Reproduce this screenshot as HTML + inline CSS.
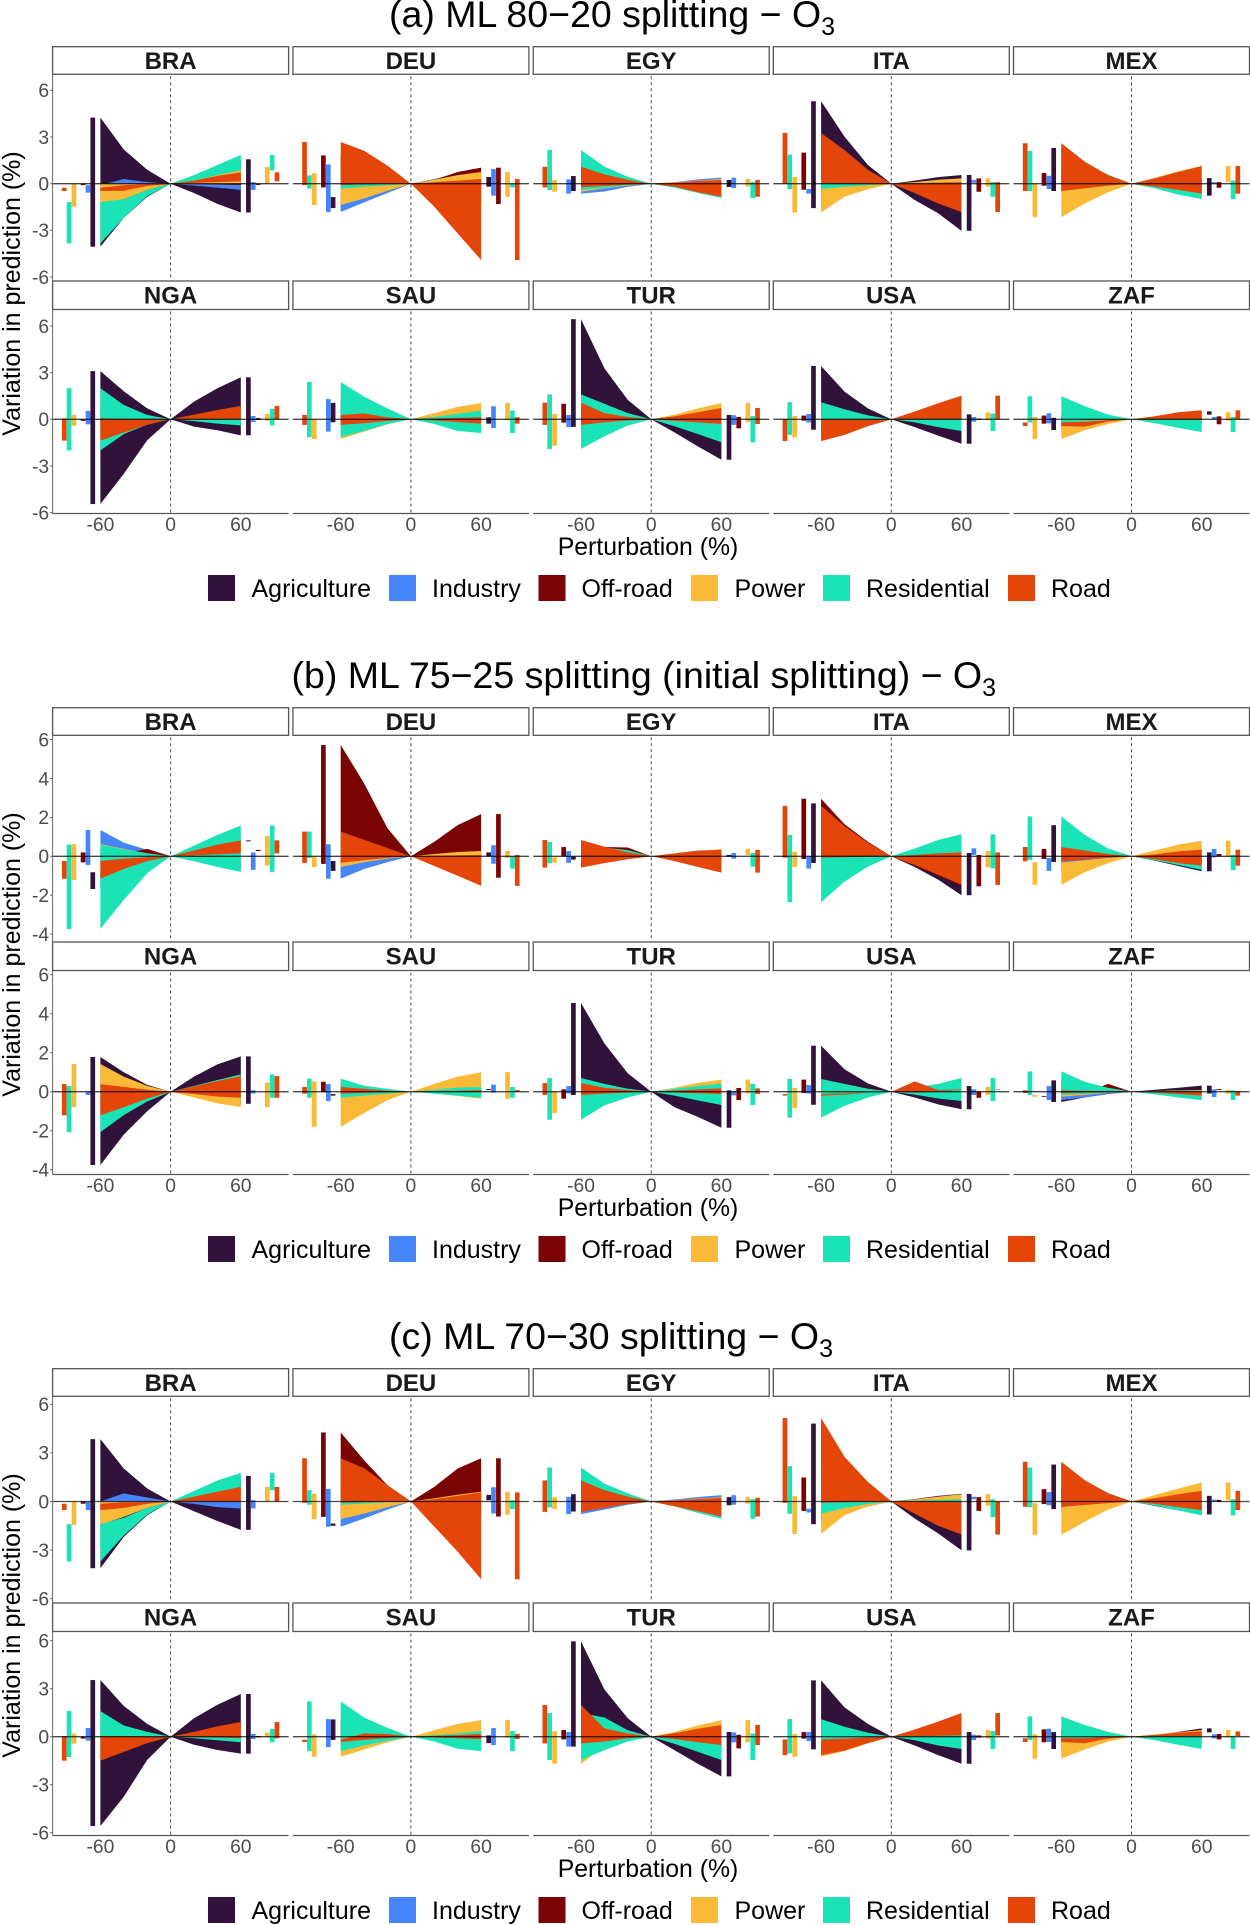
<!DOCTYPE html>
<html lang="en">
<head>
<meta charset="utf-8">
<title>Variation in O3 prediction under emission perturbation</title>
<style>
html,body{margin:0;padding:0;background:#fff;}
svg{display:block;font-family:"Liberation Sans",sans-serif;}
</style>
</head>
<body>
<svg id="chart" xmlns="http://www.w3.org/2000/svg" width="1250" height="1925" viewBox="0 0 1250 1925">
  <rect x="0" y="0" width="1250" height="1925" fill="#fff"/>
  <g id="plots"></g>

  <g font-size="37.5" fill="#000">
    <text x="389" y="27">(a) ML 80−20 splitting − O<tspan dy="8" font-size="25">3</tspan></text>
    <text x="291.5" y="688">(b) ML 75−25 splitting (initial splitting) − O<tspan dy="8" font-size="25">3</tspan></text>
    <text x="389" y="1349">(c) ML 70−30 splitting − O<tspan dy="8" font-size="25">3</tspan></text>
  </g>

  <g font-size="25" fill="#000" text-anchor="middle">
    <text transform="translate(20 293.5) rotate(-90)">Variation in prediction (%)</text>
    <text transform="translate(20 954.5) rotate(-90)">Variation in prediction (%)</text>
    <text transform="translate(20 1615.5) rotate(-90)">Variation in prediction (%)</text>
  </g>

  <g font-size="24.8" fill="#000" text-anchor="middle">
    <text x="648" y="555">Perturbation (%)</text>
    <text x="648" y="1216">Perturbation (%)</text>
    <text x="648" y="1877">Perturbation (%)</text>
  </g>

  <g font-size="25" fill="#000">
    <rect x="208" y="575" width="27" height="26" fill="#30123b"/>
    <text x="251.5" y="597">Agriculture</text>
    <rect x="389" y="575" width="27" height="26" fill="#4686fb"/>
    <text x="432" y="597">Industry</text>
    <rect x="538.5" y="575" width="27" height="26" fill="#7a0403"/>
    <text x="581.5" y="597">Off-road</text>
    <rect x="691" y="575" width="27" height="26" fill="#fbb938"/>
    <text x="734.5" y="597">Power</text>
    <rect x="823" y="575" width="27" height="26" fill="#1ae4b6"/>
    <text x="866" y="597">Residential</text>
    <rect x="1008" y="575" width="27" height="26" fill="#e4460a"/>
    <text x="1051" y="597">Road</text>
  </g>
  <g font-size="25" fill="#000" transform="translate(0 661)">
    <rect x="208" y="575" width="27" height="26" fill="#30123b"/>
    <text x="251.5" y="597">Agriculture</text>
    <rect x="389" y="575" width="27" height="26" fill="#4686fb"/>
    <text x="432" y="597">Industry</text>
    <rect x="538.5" y="575" width="27" height="26" fill="#7a0403"/>
    <text x="581.5" y="597">Off-road</text>
    <rect x="691" y="575" width="27" height="26" fill="#fbb938"/>
    <text x="734.5" y="597">Power</text>
    <rect x="823" y="575" width="27" height="26" fill="#1ae4b6"/>
    <text x="866" y="597">Residential</text>
    <rect x="1008" y="575" width="27" height="26" fill="#e4460a"/>
    <text x="1051" y="597">Road</text>
  </g>
  <g font-size="25" fill="#000" transform="translate(0 1322)">
    <rect x="208" y="575" width="27" height="26" fill="#30123b"/>
    <text x="251.5" y="597">Agriculture</text>
    <rect x="389" y="575" width="27" height="26" fill="#4686fb"/>
    <text x="432" y="597">Industry</text>
    <rect x="538.5" y="575" width="27" height="26" fill="#7a0403"/>
    <text x="581.5" y="597">Off-road</text>
    <rect x="691" y="575" width="27" height="26" fill="#fbb938"/>
    <text x="734.5" y="597">Power</text>
    <rect x="823" y="575" width="27" height="26" fill="#1ae4b6"/>
    <text x="866" y="597">Residential</text>
    <rect x="1008" y="575" width="27" height="26" fill="#e4460a"/>
    <text x="1051" y="597">Road</text>
  </g>
</svg>

<script>
// Shared categories
const countries = ["BRA","DEU","EGY","ITA","MEX","NGA","SAU","TUR","USA","ZAF"];
const sectors = ["agriculture","industry","off-road","power","residential","road"];
const sectorColors = ["#30123b","#4686fb","#7a0403","#fbb938","#1ae4b6","#e4460a"];
// Perturbation levels (%) that each value column refers to (0 is always 0 variation)
const perturbations = [-60,-40,-20,20,40,60];
const xTicks = [-60,0,60];
const yTicksA = [6,3,0,-3,-6];
const yTicksB = [6,4,2,0,-2,-4];
const yTicksC = [6,3,0,-3,-6];

// Each panel: one row per sector (agriculture..road); row = [lower bounds, upper bounds]
// at perturbations -60,-40,-20,20,40,60, in % variation in prediction.
const a_BRA=[
[[-4.05,-2.2,-.85,-.6,-1.3,-1.85],[4.25,2.2,.9,.5,1,1.57]],
[[-.58,-.4,-.15,-.12,-.25,-.4],[-.1,.3,.1,.03,.06,.1]],
[[-.09,-.05,-.02,-.02,-.05,-.08],[0,0,0,0,0,0]],
[[-1.48,-1,-.4,0,0,0],[0,0,0,.35,.7,1.07]],
[[-3.84,-2.2,-.8,.2,.55,.86],[-1.18,-1,-.4,.55,1.2,1.85]],
[[-.47,-.45,-.15,.05,.1,.15],[-.26,-.1,-.03,.2,.5,.73]]];
const a_DEU=[
[[-1.57,-1,-.4,-.06,-.12,-.19],[-.86,-.5,-.2,.13,.28,.43]],
[[-1.82,-1.2,-.6,-.25,-.5,-.77],[1.24,.8,.35,.3,.6,.94]],
[[-.24,-.15,-.06,-.4,-.9,-1.31],[1.82,1.2,.5,.25,.75,1.03]],
[[-1.37,-.95,-.45,-.25,-.55,-.84],[.67,.4,.2,.25,.55,.75]],
[[-.32,-.2,-.1,-.07,-.15,-.24],[.54,.3,.12,0,0,0]],
[[-.09,-.05,-.02,-1.48,-3.2,-4.91],[2.68,2.12,1.16,.1,.2,.3]]];
const a_EGY=[
[[-.47,-.3,-.12,-.07,-.14,-.21],[.49,.3,.12,.08,.16,.24]],
[[-.64,-.5,-.2,-.1,-.18,-.28],[.28,.18,.07,.1,.28,.39]],
[[0,0,0,0,0,0],[0,0,0,0,0,0]],
[[-.52,-.3,-.12,-.06,-.12,-.19],[.24,.14,.06,.1,.2,.3]],
[[-.41,-.25,-.1,-.25,-.6,-.92],[2.17,1.1,.45,.03,.06,.1]],
[[-.24,-.15,-.06,-.2,-.55,-.84],[1.09,.6,.25,.06,.18,.24]]];
const a_ITA=[
[[-1.57,-.75,-.3,-1.05,-1.9,-3.03],[5.3,3.03,1.2,.2,.42,.56]],
[[-.64,-.4,-.15,.02,.04,.06],[-.34,-.2,-.08,.08,.16,.24]],
[[-.39,-.25,-.1,-.18,-.35,-.52],[2,1.2,.5,.1,.22,.34]],
[[-1.85,-.84,-.35,-.06,-.12,-.19],[.43,.25,.1,.1,.25,.34]],
[[-.34,-.2,-.1,-.28,-.55,-.84],[1.87,1.1,.45,.03,.07,.1]],
[[0,0,0,-.6,-1.27,-1.82],[3.26,2.17,.9,.03,.07,.1]]];
const a_MEX=[
[[-.47,-.3,-.12,-.25,-.5,-.77],[2.3,1.3,.5,.12,.24,.36]],
[[-.34,-.2,-.08,0,0,0],[.51,.3,.12,.03,.06,.1]],
[[-.13,-.08,-.03,-.09,-.18,-.26],[.69,.4,.16,.03,.06,.1]],
[[-2.15,-1.27,-.55,.03,.06,.1],[0,0,0,.38,.8,1.14]],
[[-.47,-.3,-.12,-.3,-.7,-.99],[2.1,1.3,.58,.06,.13,.2]],
[[-.47,-.3,-.12,-.2,-.4,-.64],[2.6,1.42,.55,.35,.75,1.14]]];
const a_NGA=[
[[-5.45,-3.5,-1.35,-.47,-.7,-1.03],[3.1,1.8,.7,1.14,2,2.7]],
[[-.32,-.2,-.08,-.06,-.12,-.17],[.54,.3,.12,.07,.14,.21]],
[[-.1,-.06,-.03,-.01,-.03,-.04],[0,0,0,.03,.05,.08]],
[[-.41,-.25,-.1,-.03,-.06,-.1],[.28,.16,.06,.11,.22,.34]],
[[-2,-.95,-.35,-.12,-.28,-.39],[2,.92,.28,.2,.45,.67]],
[[-1.37,-.85,-.35,0,0,0],[.06,.03,.01,.3,.6,.86]]];
const a_SAU=[
[[-.19,-.12,-.05,-.09,-.18,-.28],[1.05,.6,.25,.04,.08,.13]],
[[-.79,-.5,-.2,-.18,-.37,-.56],[1.3,.8,.32,.28,.55,.84]],
[[0,0,0,0,0,0],[0,0,0,0,0,0]],
[[-1.27,-.8,-.33,-.02,-.04,-.06],[0,0,0,.4,.8,1.05]],
[[-1.14,-.75,-.3,-.3,-.75,-.88],[2.4,1.46,.7,.15,.35,.56]],
[[-.36,-.25,-.1,-.08,-.18,-.28],[.28,.38,.12,.05,.1,.13]]];
const a_TUR=[
[[-.49,-.3,-.12,-.85,-1.75,-2.6],[6.44,3.28,1.25,.1,.18,.28]],
[[-.49,-.3,-.12,-.12,-.24,-.36],[.28,.17,.07,.08,.17,.26]],
[[-.21,-.13,-.05,-.19,-.38,-.58],[1,.6,.25,.05,.1,.15]],
[[-1.7,-.9,-.3,-.06,-.12,-.19],[.34,.2,.08,.3,.7,1.05]],
[[-1.9,-1.1,-.4,-.45,-.95,-1.48],[1.6,1,.4,.07,.14,.21]],
[[-.36,-.2,-.07,-.1,-.2,-.3],[1.07,.4,.15,.2,.45,.73]]];
const a_USA=[
[[-.67,-.4,-.16,-.5,-1.05,-1.57],[3.43,1.78,.7,.1,.2,.32]],
[[-.21,-.13,-.05,-.05,-.1,-.15],[.34,.2,.08,.05,.1,.15]],
[[-.09,-.06,-.02,-.01,-.03,-.04],[.24,.15,.06,.02,.03,.05]],
[[-1.16,-.7,-.3,-.02,-.04,-.06],[.21,.12,.05,.15,.3,.45]],
[[-1,-.6,-.25,-.2,-.5,-.75],[1.1,.65,.25,.12,.24,.36]],
[[-1.4,-1,-.45,0,0,0],[0,0,0,.5,1.03,1.52]]];
const a_ZAF=[
[[-.69,-.4,-.16,.1,.2,.3],[.09,.05,.02,.17,.34,.51]],
[[-.26,-.15,-.06,0,0,0],[.39,.22,.09,.05,.1,.15]],
[[-.28,-.17,-.07,-.1,-.2,-.32],[.24,.14,.06,.06,.12,.19]],
[[-1.27,-.7,-.3,-.03,-.06,-.09],[.15,.09,.04,.15,.3,.45]],
[[-.21,-.12,-.04,-.25,-.55,-.82],[1.48,.85,.3,.05,.1,.15]],
[[-.43,-.47,-.15,0,0,0],[-.2,-.15,-.05,.2,.45,.58]]];

const b_BRA=[
[[-1.68,-1,-.4,.26,.52,.77],[-.82,-.5,-.2,.28,.55,.82]],
[[-.45,-.28,-.11,-.25,-.5,-.7],[1.35,.7,.33,.05,.12,.2]],
[[-.31,-.2,-.1,.09,.18,.27],[.2,.15,.38,.11,.22,.33]],
[[-1.22,-.75,-.3,-.15,-.3,-.48],[.63,.38,.15,.35,.7,1.04]],
[[-3.73,-2.24,-.87,-.25,-.55,-.8],[.6,.35,.15,.55,1.1,1.58]],
[[-1.15,-.65,-.25,.05,.1,.15],[-.24,-.12,-.05,.3,.6,.82]]];
const b_DEU=[
[[-.75,-.45,-.18,0,0,0],[-.24,-.15,-.06,.06,.13,.2]],
[[-1.15,-.65,-.3,-.12,-.25,-.38],[.62,.37,.15,.18,.38,.57]],
[[-.39,-.25,-.1,-.35,-.7,-1.1],[5.72,3.75,1.44,.75,1.6,2.17]],
[[-.55,-.3,-.12,-.03,-.06,-.09],[0,0,0,.12,.22,.27]],
[[-.09,-.05,-.02,-.2,-.42,-.63],[1.27,.75,.3,0,0,0]],
[[-.34,-.2,-.08,-.5,-1,-1.52],[1.27,.85,.42,.02,.05,.07]]];
const b_EGY=[
[[-.17,-.1,-.04,-.01,-.01,-.02],[0,0,0,.02,.05,.07]],
[[-.34,-.2,-.08,-.04,-.08,-.12],[.27,.16,.06,.06,.11,.17]],
[[0,0,0,0,0,0],[.48,.48,.45,0,0,0]],
[[-.33,-.2,-.08,.02,.04,.07],[-.05,-.03,-.01,.13,.26,.38]],
[[-.36,-.22,-.09,-.18,-.35,-.53],[.74,.45,.32,.06,.11,.17]],
[[-.58,-.35,-.15,-.25,-.55,-.84],[.84,.5,.2,.15,.3,.33]]];
const b_ITA=[
[[-.34,-.2,-.08,-.55,-1.2,-2],[2.72,1.6,.72,.06,.12,.17]],
[[-.63,-.38,-.15,.02,.05,.07],[0,0,0,.14,.28,.41]],
[[-.14,-.08,-.03,-.5,-1,-1.54],[2.96,1.65,.75,.03,.05,.07]],
[[-.55,-.33,-.13,-.18,-.36,-.55],[.24,.14,.06,.09,.18,.27]],
[[-2.36,-1.3,-.53,-.2,-.45,-.62],[1.1,.65,.25,.4,.84,1.13]],
[[-.07,-.04,-.02,-.45,-.95,-1.47],[2.59,1.55,.7,.07,.15,.2]]];
const b_MEX=[
[[-.29,-.18,-.07,-.22,-.5,-.77],[1.6,.95,.38,.07,.13,.2]],
[[-.75,-.45,-.18,-.02,-.03,-.05],[-.09,-.05,-.02,.12,.25,.38]],
[[-.14,-.08,-.03,0,0,0],[.38,.22,.09,.04,.08,.12]],
[[-1.47,-.82,-.35,-.01,-.01,-.02],[-.31,-.2,-.08,.3,.6,.8]],
[[-.19,-.11,-.05,-.2,-.45,-.7],[2.05,1.1,.4,.02,.05,.07]],
[[-.26,-.18,-.07,-.15,-.35,-.48],[.48,.3,.12,.1,.25,.34]]];
const b_NGA=[
[[-3.76,-2.2,-1,-.2,-.4,-.62],[1.78,1,.35,.77,1.4,1.81]],
[[-.17,-.1,-.04,-.03,-.06,-.09],[0,0,0,.02,.05,.07]],
[[0,0,0,0,0,0],[0,0,0,0,0,0]],
[[-.79,-.48,-.19,-.3,-.6,-.79],[1.42,.77,.3,.15,.3,.46]],
[[-2.07,-1.2,-.5,-.1,-.2,-.31],[.29,.17,.07,.3,.6,.89]],
[[-1.21,-.8,-.35,-.12,-.25,-.31],[.39,.25,.1,.27,.55,.8]]];
const b_SAU=[
[[-.2,-.12,-.05,.03,.06,.09],[-.12,-.07,-.03,.05,.09,.14]],
[[-.48,-.3,-.12,-.02,-.03,-.05],[.39,.23,.1,.12,.24,.36]],
[[-.02,-.01,0,0,0,0],[.51,.3,.12,0,0,0]],
[[-1.8,-1.1,-.43,-.1,-.22,-.36],[.53,.32,.13,.4,.77,1]],
[[-.31,-.2,-.1,-.1,-.2,-.31],[.67,.3,.15,.1,.2,.24]],
[[-.1,-.06,-.03,0,0,0],[.24,.15,.05,.02,.05,.09]]];
const b_TUR=[
[[-.17,-.1,-.04,-.8,-1.3,-1.85],[4.55,2.48,.94,.02,.05,.07]],
[[-.09,-.05,-.02,-.06,-.12,-.19],[.29,.17,.07,0,0,0]],
[[-.36,-.2,-.09,-.14,-.28,-.43],[.12,.07,.03,.06,.12,.19]],
[[-1.09,-.6,-.25,-.03,-.06,-.09],[0,0,0,.2,.45,.62]],
[[-1.44,-.7,-.3,-.2,-.45,-.68],[.7,.4,.15,.15,.3,.41]],
[[-.17,-.1,-.04,-.04,-.08,-.12],[.44,.2,.08,.06,.12,.17]]];
const b_USA=[
[[-.67,-.4,-.16,-.3,-.65,-.9],[2.36,1.15,.43,.1,.2,.29]],
[[-.1,-.06,-.02,-.06,-.12,-.17],[.34,.2,.08,.04,.08,.12]],
[[-.07,-.04,-.02,-.1,-.2,-.31],[.62,.37,.15,0,0,0]],
[[-.85,-.5,-.2,-.06,-.12,-.17],[.2,.12,.05,.08,.16,.24]],
[[-1.33,-.73,-.3,-.15,-.35,-.48],[.65,.4,.15,.2,.4,.7]],
[[-.2,-.15,-.05,-.05,.02,.09],[-.12,-.08,-.03,.53,.09,.12]]];
const b_ZAF=[
[[-.53,-.3,-.12,-.03,-.06,-.09],[.58,.3,.1,.1,.2,.31]],
[[-.43,-.3,-.1,-.09,-.18,-.27],[.29,.17,.07,.04,.08,.12]],
[[-.26,-.1,.15,.03,.06,.09],[-.22,-.05,.4,.05,.09,.14]],
[[-.26,-.16,-.06,-.03,-.06,-.1],[-.17,-.1,-.04,.03,.06,.09]],
[[-.17,-.1,-.04,-.14,-.3,-.43],[1.04,.51,.2,.02,.05,.07]],
[[-.07,-.04,-.02,-.05,-.12,-.2],[.07,.04,.02,.01,.01,.02]]];

const c_BRA=[
[[-4.12,-2.18,-.85,-.6,-1.2,-1.75],[3.85,2.04,.8,.5,1.05,1.58]],
[[-.53,-.2,-.1,-.15,-.35,-.43],[0,.5,.25,.03,.05,.08]],
[[-.14,-.08,-.03,0,0,0],[0,0,0,0,0,0]],
[[-1.44,-.95,-.4,0,0,0],[0,0,0,.3,.6,.9]],
[[-3.7,-2.1,-.8,.2,.45,.7],[-1.4,-1,-.4,.65,1.3,1.77]],
[[-.53,-.4,-.15,0,0,0],[-.14,-.05,-.02,.3,.6,.9]]];
const c_DEU=[
[[-1.5,-.9,-.36,.03,.05,.08],[-1.36,-.8,-.33,.14,.28,.41]],
[[-1.56,-1.05,-.5,-.25,-.5,-.74],[.78,.47,.19,.3,.6,.88]],
[[-.95,-.6,-.25,-.3,-.6,-.93],[4.26,2.55,1,.9,2.04,2.67]],
[[-1.09,-.75,-.35,-.27,-.55,-.8],[.47,.28,.11,.2,.42,.6]],
[[-.2,-.12,-.05,-.15,-.3,-.47],[.7,.42,.17,.03,.05,.08]],
[[-.08,-.05,-.02,-1.55,-3.1,-4.8],[2.67,2.05,1,.15,.35,.56]]];
const c_EGY=[
[[-.62,-.37,-.15,-.08,-.15,-.23],[.45,.27,.11,.09,.18,.27]],
[[-.78,-.5,-.2,-.07,-.13,-.2],[.29,.17,.07,.12,.28,.39]],
[[0,0,0,0,0,0],[0,0,0,0,0,0]],
[[-.47,-.28,-.11,-.05,-.09,-.14],[.27,.16,.07,.09,.18,.27]],
[[-.37,-.22,-.09,-.3,-.7,-1.07],[2.1,1.1,.5,.05,.09,.14]],
[[-.64,-.4,-.15,-.3,-.6,-.93],[1.3,.7,.3,.07,.15,.23]]];
const c_ITA=[
[[-1.4,-.7,-.3,-1.05,-1.97,-3.02],[4.81,2.6,1.2,.15,.35,.47]],
[[-.68,-.4,-.16,.05,.09,.14],[-.45,-.27,-.11,.1,.2,.29]],
[[-.58,-.35,-.14,-.2,-.4,-.58],[1.48,.9,.36,.09,.18,.27]],
[[-2,-.85,-.3,-.09,-.18,-.27],[.33,.2,.08,.12,.3,.45]],
[[-.76,-.4,-.15,-.3,-.65,-.97],[2.18,1.3,.52,.05,.1,.14]],
[[-.08,-.05,-.02,-.75,-1.5,-2.04],[5.16,2.76,1.2,0,0,0]]];
const c_MEX=[
[[-.47,-.28,-.11,-.27,-.55,-.8],[2.28,1.3,.52,.12,.24,.35]],
[[-.23,-.14,-.05,0,0,0],[.58,.35,.14,.04,.08,.12]],
[[-.16,-.1,-.04,-.01,-.01,-.02],[.76,.45,.18,.03,.07,.1]],
[[-2.06,-1.25,-.5,.03,.05,.08],[-.1,-.06,-.02,.4,.8,1.17]],
[[-.35,-.2,-.08,-.25,-.55,-.86],[2.1,1.2,.5,.05,.1,.14]],
[[-.33,-.22,-.1,-.15,-.35,-.53],[2.45,1.32,.5,.2,.45,.66]]];
const c_NGA=[
[[-5.58,-3.75,-1.45,-.5,-.83,-1.06],[3.54,1.92,.8,1.15,2,2.67]],
[[-.25,-.15,-.06,-.05,-.1,-.15],[.54,.32,.13,.06,.11,.17]],
[[-.12,-.07,-.03,-.01,-.03,-.04],[0,0,0,.01,.03,.04]],
[[-.44,-.26,-.1,-.01,-.03,-.04],[.2,.12,.05,.08,.16,.25]],
[[-1.27,-.9,-.35,-.1,-.22,-.35],[1.6,.7,.3,.15,.3,.48]],
[[-1.5,-.95,-.4,-.02,-.05,-.1],[.04,.03,.01,.3,.65,.92]]];
const c_SAU=[
[[-.2,-.12,-.05,-.13,-.27,-.4],[1.08,.65,.26,.03,.05,.08]],
[[-.65,-.4,-.16,-.17,-.35,-.52],[1.1,.66,.27,.18,.36,.54]],
[[0,0,0,0,0,0],[0,0,0,0,0,0]],
[[-1.25,-.8,-.35,-.02,-.04,-.06],[.15,.09,.04,.4,.8,1.04]],
[[-.9,-.55,-.25,-.3,-.75,-.9],[2.2,1.2,.55,.1,.2,.35]],
[[-.33,-.2,-.08,-.05,-.1,-.15],[-.19,.2,.17,.05,.1,.17]]];
const c_TUR=[
[[-.62,-.37,-.15,-.85,-1.7,-2.48],[5.96,2.96,1.15,.1,.2,.29]],
[[-.62,-.37,-.15,-.12,-.24,-.35],[.29,.17,.07,.09,.18,.27]],
[[-.17,-.1,-.04,-.24,-.48,-.73],[.42,.25,.1,.04,.08,.12]],
[[-1.69,-.6,-.15,-.12,-.24,-.35],[.35,.2,.08,.3,.7,1.04]],
[[-1.46,-.85,-.3,-.45,-.95,-1.46],[1.48,1.2,.4,.07,.13,.2]],
[[-.42,-.3,-.1,-.15,-.35,-.52],[1.98,.52,.2,.22,.5,.73]]];
const c_USA=[
[[-.79,-.47,-.19,-.55,-1.15,-1.69],[3.52,1.83,.8,.1,.2,.29]],
[[-.27,-.16,-.06,-.07,-.14,-.21],[.29,.17,.07,.04,.08,.12]],
[[-.12,-.07,-.03,-.02,-.04,-.06],[.29,.17,.07,.03,.05,.08]],
[[-1.25,-.9,-.42,-.04,-.08,-.12],[.17,.1,.04,.14,.28,.42]],
[[-1.04,-.62,-.25,-.22,-.55,-.77],[1.1,.62,.25,.12,.24,.35]],
[[-1.15,-.87,-.4,.02,.05,.08],[-.17,-.12,-.05,.45,.94,1.48]]];
const c_ZAF=[
[[-.77,-.46,-.18,.05,.15,.27],[.29,.17,.07,.1,.3,.52]],
[[-.33,-.2,-.08,-.03,-.07,-.1],[.5,.3,.12,.05,.1,.15]],
[[-.35,-.21,-.08,-.06,-.12,-.17],[.46,.28,.11,.06,.12,.17]],
[[-1.37,-.8,-.3,-.01,-.03,-.04],[.15,.09,.04,.14,.28,.42]],
[[-.2,-.12,-.05,-.22,-.5,-.77],[1.27,.73,.3,.02,.04,.06]],
[[-.33,-.4,-.12,.01,.03,.04],[-.1,-.1,-.03,.12,.25,.33]]];

const panelsA = [a_BRA,a_DEU,a_EGY,a_ITA,a_MEX,a_NGA,a_SAU,a_TUR,a_USA,a_ZAF];
const panelsB = [b_BRA,b_DEU,b_EGY,b_ITA,b_MEX,b_NGA,b_SAU,b_TUR,b_USA,b_ZAF];
const panelsC = [c_BRA,c_DEU,c_EGY,c_ITA,c_MEX,c_NGA,c_SAU,c_TUR,c_USA,c_ZAF];

// Distance (in perturbation units) of each sector's summary bar beyond the ribbons, agriculture..road
const barOffsets = [66.5,70.6,74.8,82.6,86.8,90.9];
const barWidthUnits = 4;

// Layout
const NS = "http://www.w3.org/2000/svg";
const root = document.getElementById("plots");
const colZero = [170.6,410.9,651.2,891.3,1131.5];
const panelHalf = 118;
const xUnit = 1.17;
const sections = [
  {id:"a",panels:panelsA,ticks:yTicksA,rows:[
    {strip:46.7,body:74.3,zero:183.7,unit:15.55,bottom:281},
    {strip:281,body:309.5,zero:419.3,unit:15.55,bottom:513.5}]},
  {id:"b",panels:panelsB,ticks:yTicksB,rows:[
    {strip:707.7,body:735.3,zero:856.3,unit:19.46,bottom:942},
    {strip:942,body:970.5,zero:1091.7,unit:19.5,bottom:1174.5}]},
  {id:"c",panels:panelsC,ticks:yTicksC,rows:[
    {strip:1368.7,body:1396.3,zero:1501.5,unit:16.2,bottom:1603},
    {strip:1603,body:1631.5,zero:1736.7,unit:16,bottom:1835.5}]}
];

function mk(parent, tag, attrs, text){
  const el = document.createElementNS(NS, tag);
  for (const k in attrs) el.setAttribute(k, attrs[k]);
  if (text !== undefined) el.textContent = text;
  parent.appendChild(el);
  return el;
}

sections.forEach(function(sec){
  countries.forEach(function(country, idx){
    const rowIdx = idx < 5 ? 0 : 1;
    const row = sec.rows[rowIdx];
    const cx = colZero[idx % 5];
    const xs = function(v){ return cx + v * xUnit; };
    const ys = function(v){ return row.zero - v * row.unit; };
    const data = sec.panels[idx];

    const g = mk(root, "g", {});
    
    

    // ribbons, drawn agriculture first and road last
    data.forEach(function(series, s){
      const lo = series[0], hi = series[1];
      const pts = [];
      perturbations.forEach(function(p, i){
        if (p === 20) pts.push(xs(0).toFixed(2) + "," + ys(0).toFixed(2));
        pts.push(xs(p).toFixed(2) + "," + ys(hi[i]).toFixed(2));
      });
      for (let i = perturbations.length - 1; i >= 0; i--) {
        if (perturbations[i] === -20) pts.push(xs(0).toFixed(2) + "," + ys(0).toFixed(2));
        pts.push(xs(perturbations[i]).toFixed(2) + "," + ys(lo[i]).toFixed(2));
      }
      const rb = mk(g, "polygon", {points: pts.join(" "), fill: sectorColors[s]});
      
      
    });

    // summary bars at both ends (extent of the ribbon at -60 and +60)
    data.forEach(function(series, s){
      const lo = series[0], hi = series[1];
      [[-1, 0], [1, 5]].forEach(function(side){
        const low = lo[side[1]], high = hi[side[1]];
        const bx = xs(side[0] * barOffsets[s] - barWidthUnits / 2);
        const bar = mk(g, "rect", {
          x: bx.toFixed(2),
          y: ys(Math.max(low, high)).toFixed(2),
          width: (barWidthUnits * xUnit).toFixed(2),
          height: (Math.abs(high - low) * row.unit).toFixed(2),
          fill: sectorColors[s]
        });
        
        
      });
    });

    // reference lines
    const vl = mk(g, "line", {x1: cx, x2: cx, y1: row.body + 2, y2: row.bottom, stroke: "#4a4a4a", "stroke-width": 1, "stroke-dasharray": "3 3"});
    
    
    const hl = mk(g, "line", {x1: cx - panelHalf, x2: cx + panelHalf, y1: ys(0), y2: ys(0), stroke: "#000", "stroke-opacity": 0.72, "stroke-width": 1.3});
    
    

    // strip
    const st = mk(g, "rect", {x: cx - panelHalf, y: row.strip, width: panelHalf * 2, height: row.body - row.strip, fill: "#fff", stroke: "#555", "stroke-width": 1.3});
    
    
    const stt = mk(g, "text", {x: cx, y: row.strip + 22.5, "text-anchor": "middle", "font-size": 24, "font-weight": "bold", fill: "#1a1a1a"}, country);
    
    

    // x axis on the bottom row
    if (rowIdx === 1) {
      const ax = mk(g, "line", {x1: cx - panelHalf, x2: cx + panelHalf, y1: row.bottom, y2: row.bottom, stroke: "#555", "stroke-width": 1.2});
      
      
      xTicks.forEach(function(t){
        const tl = mk(g, "text", {x: xs(t), y: row.bottom + 17.5, "text-anchor": "middle", "font-size": 19.3, fill: "#4d4d4d"}, String(t));
        
        
      });
    }

    // y axis on the first column
    if (idx % 5 === 0) {
      const ay = mk(g, "line", {x1: cx - panelHalf, x2: cx - panelHalf, y1: row.body, y2: row.bottom, stroke: "#666", "stroke-width": 1});
      
      
      sec.ticks.forEach(function(t){
        const tk = mk(g, "line", {x1: cx - panelHalf - 2.5, x2: cx - panelHalf, y1: ys(t), y2: ys(t), stroke: "#666", "stroke-width": 1});
        
        
        const tl = mk(g, "text", {x: cx - panelHalf - 3.5, y: ys(t) + 6.8, "text-anchor": "end", "font-size": 19.3, fill: "#4d4d4d"}, String(t));
        
        
      });
    }
  });
});
</script>
</body>
</html>
